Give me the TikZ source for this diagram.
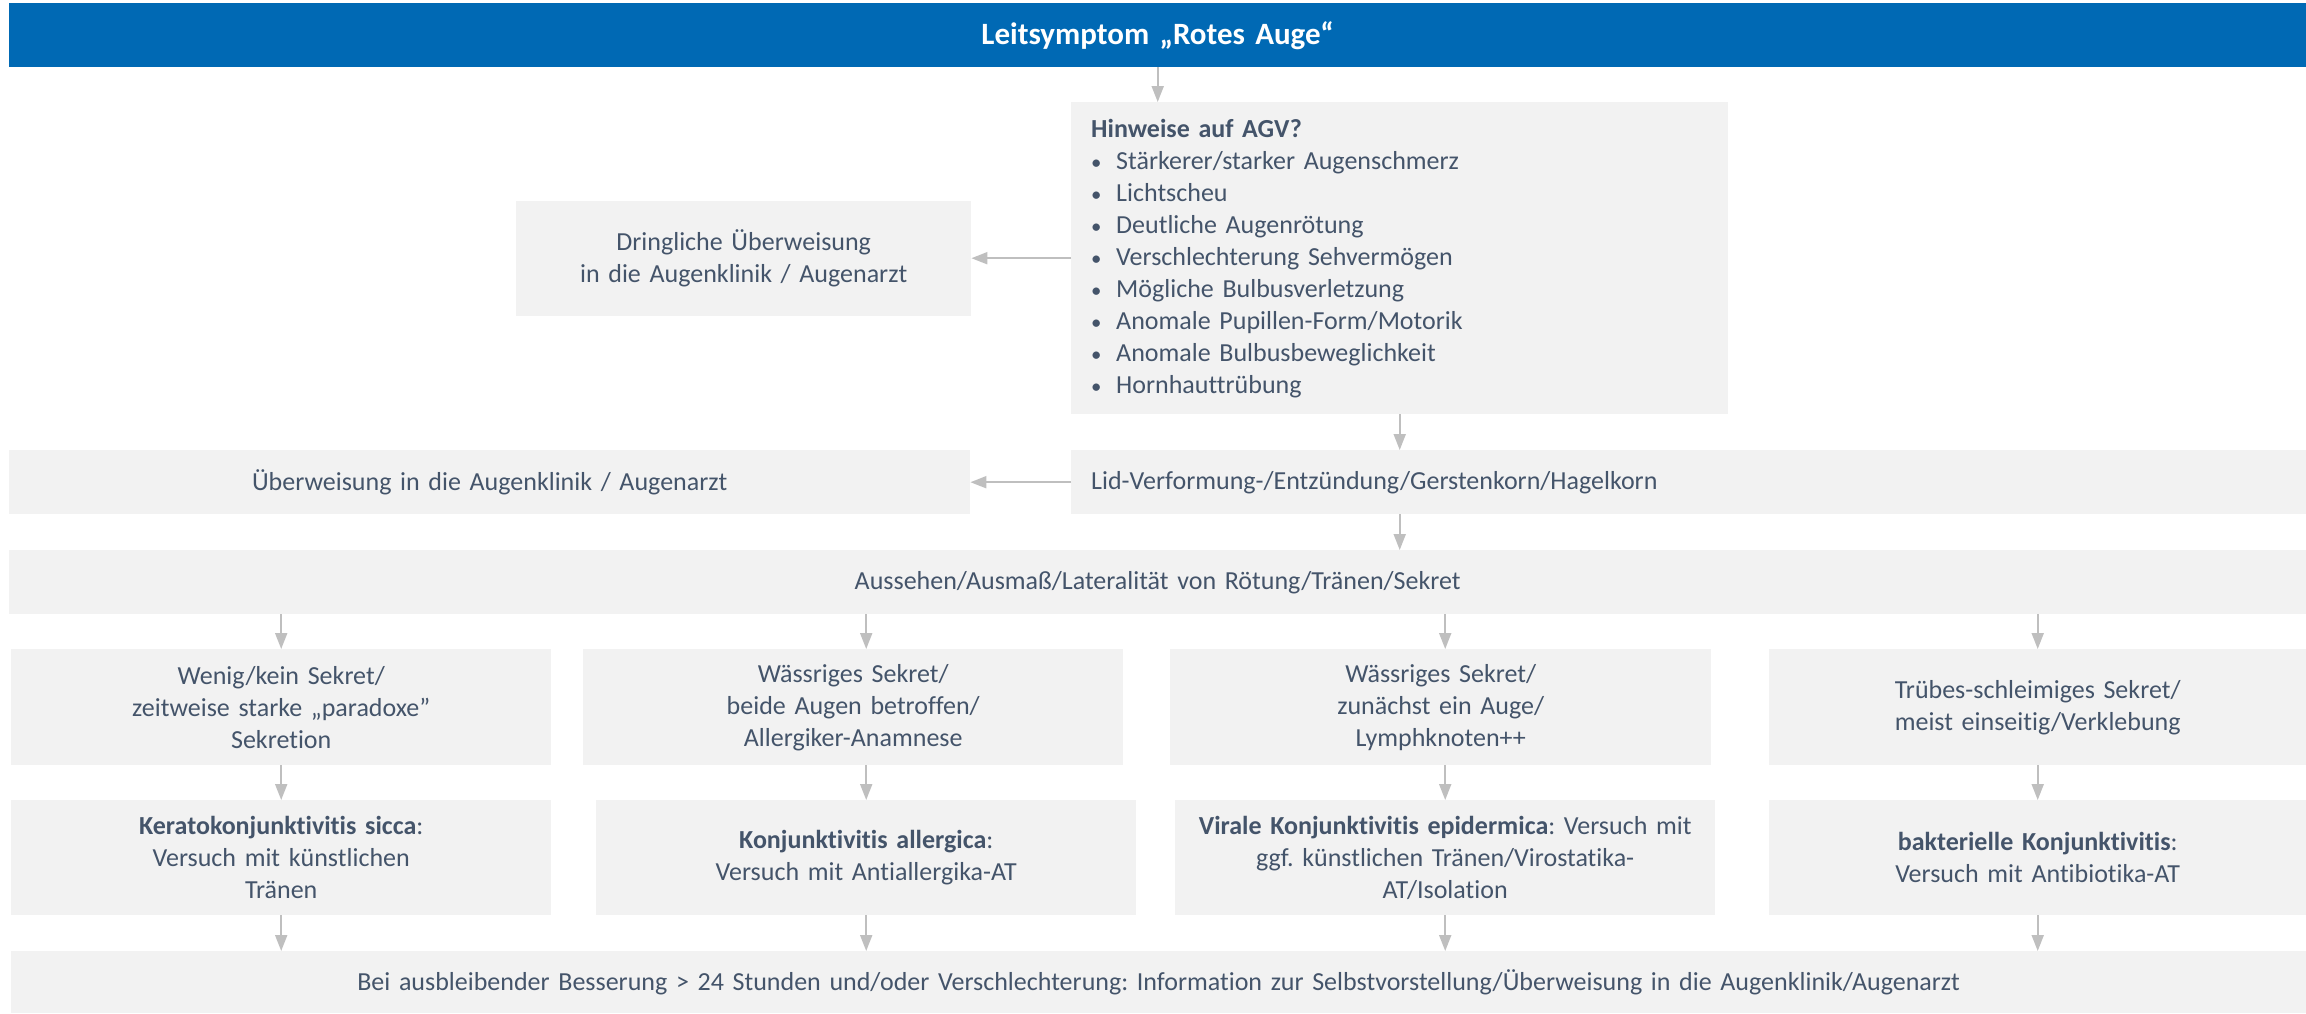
\documentclass[tikz,border=0pt]{standalone}
\usepackage{fontspec}
\setmainfont{Carlito}[Ligatures=NoCommon]
\usetikzlibrary{arrows.meta}
\definecolor{hdrblue}{RGB}{0,105,180}
\definecolor{boxfill}{RGB}{242,242,242}
\definecolor{txtcol}{RGB}{68,84,106}
\definecolor{arrcol}{RGB}{191,191,191}
\newcommand{\bul}{\makebox[25pt][l]{\scalebox{0.8}{•}}}
\frenchspacing
\begin{document}
\begin{tikzpicture}[x=1pt,y=-1pt,
  box/.style={fill=boxfill, draw=none, inner xsep=20pt, inner ysep=0pt, text=txtcol,
    font=\fontsize{26}{32}\selectfont, align=center, anchor=north west},
  link/.style={draw=arrcol, line width=2pt, -{Triangle[length=16pt,width=12pt]}}]
\useasboundingbox (0,0) rectangle (2306,1013);

\node[box, fill=hdrblue, text=white, font=\fontsize{31}{36}\selectfont\bfseries,
  minimum width=2297pt, minimum height=64pt, text width=2257pt] (hdr) at (9,3)
  {Leitsymptom „Rotes Auge“};

\node[box, align=left, minimum width=657pt, minimum height=312pt, text width=617pt] (agv) at (1071,102)
  {\textbf{Hinweise auf AGV?}\\
   \bul Stärkerer/starker Augenschmerz\\
   \bul Lichtscheu\\
   \bul Deutliche Augenrötung\\
   \bul Verschlechterung Sehvermögen\\
   \bul Mögliche Bulbusverletzung\\
   \bul Anomale Pupillen-Form/Motorik\\
   \bul Anomale Bulbusbeweglichkeit\\
   \bul Hornhauttrübung};

\node[box, minimum width=455pt, minimum height=115pt, text width=415pt] (dring) at (516,201)
  {Dringliche Überweisung\\in die Augenklinik / Augenarzt};

\node[box, align=left, minimum width=1235pt, minimum height=64pt, text width=1195pt] (lid) at (1071,450)
  {Lid-Verformung-/Entzündung/Gerstenkorn/Hagelkorn};

\node[box, minimum width=961pt, minimum height=64pt, text width=921pt] (uebw) at (9,450)
  {Überweisung in die Augenklinik / Augenarzt};

\node[box, minimum width=2297pt, minimum height=64pt, text width=2257pt] (auss) at (9,550)
  {Aussehen/Ausmaß/Lateralität von Rötung/Tränen/Sekret};

\node[box, minimum width=540pt, minimum height=116pt, text width=500pt] (r1a) at (11,649)
  {Wenig/kein Sekret/\\zeitweise starke „paradoxe"\\Sekretion};
\node[box, minimum width=540pt, minimum height=116pt, text width=500pt] (r1b) at (583,649)
  {Wässriges Sekret/\\beide Augen betroffen/\\Allergiker-Anamnese};
\node[box, minimum width=541pt, minimum height=116pt, text width=501pt] (r1c) at (1170,649)
  {Wässriges Sekret/\\zunächst ein Auge/\\Lymphknoten++};
\node[box, minimum width=537pt, minimum height=116pt, text width=497pt] (r1d) at (1769,649)
  {Trübes-schleimiges Sekret/\\meist einseitig/Verklebung};

\node[box, minimum width=540pt, minimum height=115pt, text width=500pt] (r2a) at (11,800)
  {\textbf{Keratokonjunktivitis sicca}:\\Versuch mit künstlichen\\Tränen};
\node[box, minimum width=540pt, minimum height=115pt, text width=500pt] (r2b) at (596,800)
  {\textbf{Konjunktivitis allergica}:\\Versuch mit Antiallergika-AT};
\node[box, minimum width=540pt, minimum height=115pt, text width=510pt, inner xsep=15pt] (r2c) at (1175,800)
  {\textbf{Virale Konjunktivitis epidermica}: Versuch mit\\ggf. künstlichen Tränen/Virostatika-\\AT/Isolation};
\node[box, minimum width=537pt, minimum height=115pt, text width=497pt] (r2d) at (1769,800)
  {\textbf{bakterielle Konjunktivitis}:\\Versuch mit Antibiotika-AT};

\node[box, minimum width=2295pt, minimum height=62pt, text width=2255pt] (bot) at (11,951)
  {Bei ausbleibender Besserung > 24 Stunden und/oder Verschlechterung: Information zur Selbstvorstellung/Überweisung in die Augenklinik/Augenarzt};

\draw[link] (hdr.south) -- (agv.north -| hdr.south);
\draw[link] (agv.west) -- (dring.east |- agv.west);
\draw[link] (agv.south) -- (agv.south |- lid.north);
\draw[link] (lid.west) -- (uebw.east);
\draw[link] (lid.south -| agv.south) -- (auss.north -| agv.south);

\foreach \c in {a,b,c,d}{
  \draw[link] (auss.south -| r2\c.north) -- (r1\c.north -| r2\c.north);
  \draw[link] (r1\c.south -| r2\c.north) -- (r2\c.north);
  \draw[link] (r2\c.south) -- (bot.north -| r2\c.south);
}
\end{tikzpicture}
\end{document}
